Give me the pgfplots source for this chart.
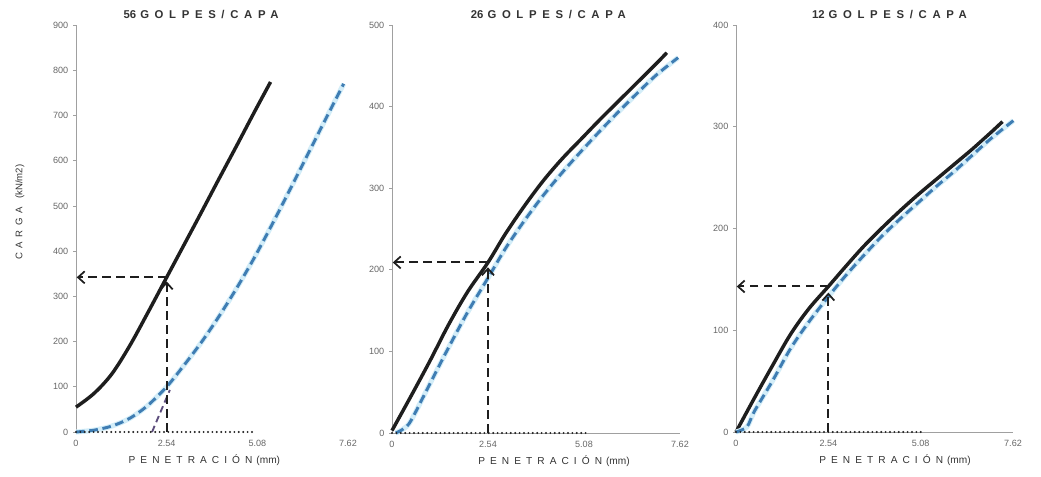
\documentclass[border=0pt]{standalone}
\usepackage{fontspec}
\setmainfont{Liberation Sans}
\newfontfamily\spaced[LetterSpace=50]{Liberation Sans}
\usepackage{pgfplots}
\pgfplotsset{compat=1.18}
\usetikzlibrary{arrows.meta}
\definecolor{blk}{HTML}{1E1E1E}
\definecolor{bl}{HTML}{3F7DB3}
\definecolor{halo}{HTML}{D3EDF8}
\definecolor{axgray}{HTML}{A0A0A0}
\definecolor{tgray}{HTML}{666666}
\definecolor{lgray}{HTML}{333333}
\definecolor{purp}{HTML}{5C4C7C}
\pgfplotsset{
  cbr/.style={
    scale only axis, axis lines=left,
    axis line style={axgray, line width=0.6pt, -},
    xmin=0, xmax=7.62, ymin=0,
    xtick={0,2.54,5.08,7.62}, xticklabels={0,2.54,5.08,7.62},
    tick label style={font=\fontsize{6.8}{7.5}\selectfont, text=tgray},
    /pgf/number format/assume math mode=true,
    tick align=outside, major tick length=2.25pt,
    xtick style={draw=none}, ytick style={axgray, line width=0.5pt},
    clip=false,
  },
  blkline/.style={blk, line width=2.6pt, smooth, tension=0.55},
  halol/.style={halo, line width=3.8pt, smooth, tension=0.5},
  blline/.style={bl, line width=2.2pt, smooth, tension=0.5, dash pattern=on 6.5pt off 3.5pt},
  annot/.style={blk, line width=1.5pt, dash pattern=on 6.5pt off 4pt},
  tip/.style={-{Straight Barb[length=5pt,width=9pt,line width=1.3pt]}},
  dotl/.style={blk, line width=1.6pt, line cap=round, dash pattern=on 0pt off 3.3pt},
}
\newcommand{\ttl}[1]{{\color{lgray}\bfseries\fontsize{8.5}{10}\selectfont #1\hspace{3pt}{\spaced GOLPES/CAPA}}}
\newcommand{\xlab}{{\color{lgray}\fontsize{7.6}{9}\selectfont{\spaced PENETRACIÓN}\hspace{3pt}(mm)}}
\begin{document}
\begin{tikzpicture}
\useasboundingbox (0,0) rectangle (780.75pt,357.75pt);
% ---------- panel 1 ----------
\begin{axis}[cbr, at={(57pt,33.75pt)}, anchor=south west,
  width=204pt, height=305.25pt, ymax=900, ytick={0,100,...,900},
  x axis line style={draw=none},
  ylabel={{\color{lgray}\fontsize{7.2}{9}\selectfont{\spaced CARGA}\hspace{6pt}(kN/m2)}},
  ylabel style={at={(axis description cs:0,0.54)}, anchor=center, yshift=42pt},
  title={\ttl{56}}, title style={at={(axis description cs:0.46,1)}, anchor=center, yshift=1.5pt},
  xlabel={\xlab}, xlabel style={at={(axis description cs:0.472,0)}, anchor=center, yshift=-21pt}]
\addplot[blkline] coordinates {(0,55)(0.5,85)(1,128)(1.5,190)(2,262)(2.54,342)(3,410)(3.5,484)(4,559)(4.5,633)(5,708)(5.45,774)};
\addplot[halol] coordinates {(0,0)(0.5,4)(1,13)(1.5,30)(2,58)(2.54,100)(3,145)(3.5,197)(4,255)(4.5,318)(5,386)(5.5,460)(6,537)(6.5,615)(7,693)(7.5,770)};
\addplot[blline] coordinates {(0,0)(0.5,4)(1,13)(1.5,30)(2,58)(2.54,100)(3,145)(3.5,197)(4,255)(4.5,318)(5,386)(5.5,460)(6,537)(6.5,615)(7,693)(7.5,770)};
\addplot[purp, line width=1.4pt, dash pattern=on 5pt off 3pt] coordinates {(2.13,0)(2.63,93)};
\addplot[dotl] coordinates {(0,0)(5.05,0)};
\addplot[annot, tip] coordinates {(2.54,0)(2.54,333)};
\addplot[annot, tip] coordinates {(2.54,342)(0.02,342)};
\end{axis}
% ---------- panel 2 ----------
\begin{axis}[cbr, at={(294pt,33pt)}, anchor=south west,
  width=216pt, height=306pt, ymax=500, ytick={0,100,...,500},
  title={\ttl{26}}, title style={at={(axis description cs:0.543,1)}, anchor=center, yshift=1.5pt},
  xlabel={\xlab}, xlabel style={at={(axis description cs:0.5625,0)}, anchor=center, yshift=-21pt}]
\addplot[blkline] coordinates {(0,3)(0.5,45)(1,88)(1.5,133)(2,173)(2.54,209)(3,244)(3.5,278)(4,309)(4.5,336)(5,360)(5.5,384)(6,407)(6.5,430)(7,453)(7.27,466)};
\addplot[halol] coordinates {(0.1,0)(0.3,5)(0.5,15)(1,60)(1.5,105)(2,148)(2.54,190)(3,226)(3.5,260)(4,291)(4.5,319)(5,345)(5.5,370)(6,394)(6.5,417)(7,439)(7.57,460)};
\addplot[blline] coordinates {(0.1,0)(0.3,5)(0.5,15)(1,60)(1.5,105)(2,148)(2.54,190)(3,226)(3.5,260)(4,291)(4.5,319)(5,345)(5.5,370)(6,394)(6.5,417)(7,439)(7.57,460)};
\addplot[dotl] coordinates {(0,0)(5.15,0)};
\addplot[annot, tip] coordinates {(2.54,0)(2.54,203)};
\addplot[annot, tip] coordinates {(2.54,209)(0.02,209)};
\end{axis}
% ---------- panel 3 ----------
\begin{axis}[cbr, at={(552pt,33.75pt)}, anchor=south west,
  width=207.75pt, height=305.25pt, ymax=400, ytick={0,100,...,400},
  title={\ttl{12}}, title style={at={(axis description cs:0.554,1)}, anchor=center, yshift=1.5pt},
  xlabel={\xlab}, xlabel style={at={(axis description cs:0.574,0)}, anchor=center, yshift=-21pt}]
\addplot[blkline] coordinates {(0,0)(0.5,33)(1,65)(1.5,96)(2,121)(2.54,143)(3,162)(3.5,182)(4,200)(4.5,217)(5,233)(5.5,248)(6,263)(6.5,278)(7,294)(7.33,305)};
\addplot[halol] coordinates {(0,0)(0.3,5)(0.5,20)(1,50)(1.5,82)(2,108)(2.54,133)(3,153)(3.5,173)(4,192)(4.5,209)(5,225)(5.5,241)(6,256)(6.5,272)(7,288)(7.63,306)};
\addplot[blline] coordinates {(0,0)(0.3,5)(0.5,20)(1,50)(1.5,82)(2,108)(2.54,133)(3,153)(3.5,173)(4,192)(4.5,209)(5,225)(5.5,241)(6,256)(6.5,272)(7,288)(7.63,306)};
\addplot[dotl] coordinates {(0,0)(5.1,0)};
\addplot[annot, tip] coordinates {(2.54,0)(2.54,137)};
\addplot[annot, tip] coordinates {(2.54,143)(0.02,143)};
\end{axis}
\end{tikzpicture}
\end{document}
